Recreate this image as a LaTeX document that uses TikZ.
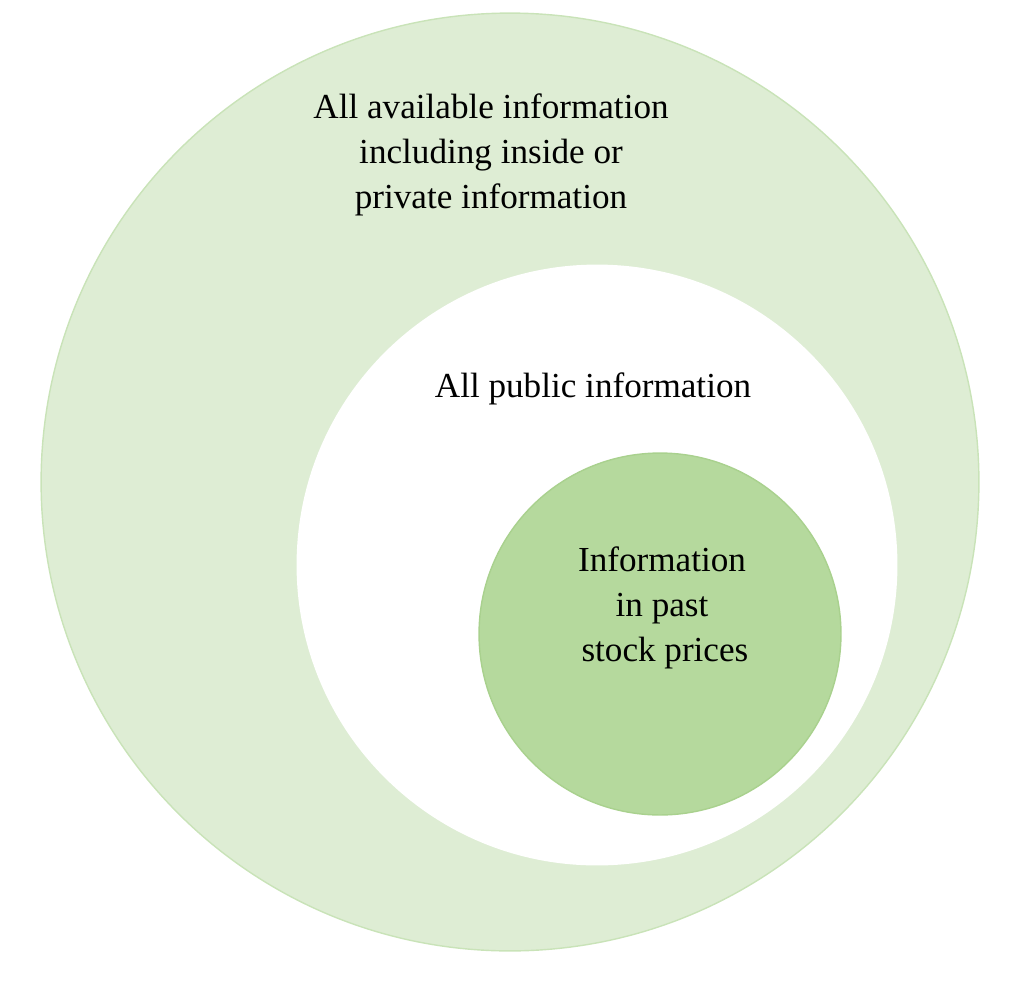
\documentclass[tikz,border=0pt]{standalone}
\usepackage{fontspec}
\setmainfont{Liberation Serif}
\usepackage{tikz}
\usetikzlibrary{positioning}
\definecolor{outerfill}{HTML}{DEEDD4}
\definecolor{outerline}{HTML}{C9E3B8}
\definecolor{pastfill}{HTML}{B5D99D}
\definecolor{pastline}{HTML}{A9D18E}

\begin{document}
\begin{tikzpicture}[x=0.02cm,y=-0.02cm,
  font=\fontsize{20}{25.5}\selectfont,
  ring/.style={circle,inner sep=0pt,line width=0.8pt},
  lbl/.style={align=center,inner sep=0pt}]
\useasboundingbox (0,0) rectangle (1024,984);
% nested circles
\node[ring,draw=outerline,fill=outerfill,minimum size=18.76cm] (outer) at (510,482) {};
\node[ring,fill=white,minimum size=12.02cm] (public) at (597,565) {};
\node[ring,draw=pastline,fill=pastfill,minimum size=7.24cm] (past) at (660,634) {};
% labels
\node[lbl] (outertxt) at (491,155) {All available information\\including inside or\\private information};
\node[lbl] (publictxt) at (593,389) {All public information};
\node[lbl] (pasttxt) at (662,608) {Information\\in past\\\,stock prices};
\end{tikzpicture}
\end{document}
